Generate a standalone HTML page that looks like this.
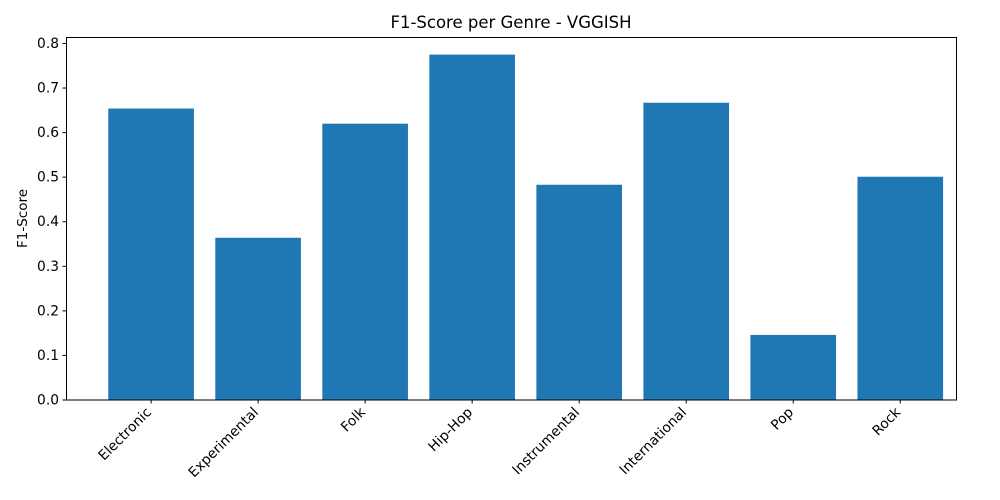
<!DOCTYPE html>
<html><head><meta charset="utf-8"><style>
html,body{margin:0;padding:0;background:#fff;}
svg{display:block;font-family:"DejaVu Sans","Liberation Sans",sans-serif;}
</style></head><body>
<svg id="chart" width="1000" height="500">
<text x="511" y="28" font-size="16.5" text-anchor="middle">F1-Score per Genre - VGGISH</text>
<text transform="translate(27,218.5) rotate(-90)" font-size="13.5" text-anchor="middle">F1-Score</text>
<g id="bars"></g><g id="yticks"></g><g id="xticks"></g>
<rect x="66.5" y="37.5" width="890" height="362.5" fill="none" stroke="#000" stroke-width="1"/>
</svg>
<script>
const genres = ["Electronic","Experimental","Folk","Hip-Hop","Instrumental","International","Pop","Rock"];
const f1Scores = [0.654,0.364,0.620,0.775,0.483,0.667,0.146,0.501];
const yTickLabels = ["0.0","0.1","0.2","0.3","0.4","0.5","0.6","0.7","0.8"];
const NS="http://www.w3.org/2000/svg";
const L=66,R=957,T=37,B=400;
const xmin=-0.795, xmax=7.53;
const ymin=0, ymax=0.8145;
const xs=i=>L+(i-xmin)/(xmax-xmin)*(R-L);
const ys=v=>B-(v-ymin)/(ymax-ymin)*(B-T);
const unit=xs(1)-xs(0);
function mk(tag,attrs,parent){const e=document.createElementNS(NS,tag);for(const k in attrs)e.setAttribute(k,attrs[k]);parent.appendChild(e);return e;}
const gb=document.getElementById('bars'),gy=document.getElementById('yticks'),gx=document.getElementById('xticks');
f1Scores.forEach((v,i)=>{
  const r=mk('rect',{x:xs(i)-0.4*unit,y:ys(v),width:0.8*unit,height:ys(0)-ys(v),fill:'#1f77b4'},gb);
  
  
});
yTickLabels.forEach(t=>{
  const y=ys(parseFloat(t));
  const l=mk('line',{x1:L-3.5,x2:L,y1:y,y2:y,stroke:'#000'},gy);
  
  
  const tx=mk('text',{x:L-7,y:y+4.5,'font-size':'13.8','text-anchor':'end'},gy);
  tx.textContent=t;
  
  
});
genres.forEach((g,i)=>{
  const x=xs(i);
  const l=mk('line',{x1:x,x2:x,y1:B,y2:B+3.5,stroke:'#000'},gx);
  
  
  const tx=mk('text',{transform:`translate(${x+1},${B+13}) rotate(-45)`,'font-size':'13.8','text-anchor':'end'},gx);
  tx.textContent=g;
  
  
});
</script>
</body></html>
